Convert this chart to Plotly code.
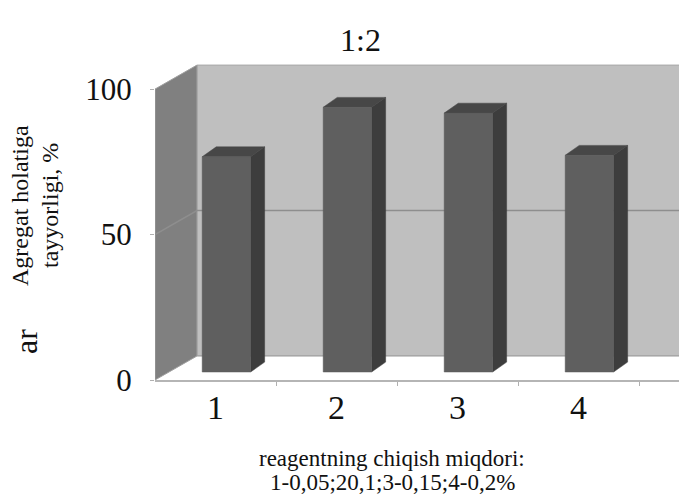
import plotly.graph_objects as go

# ---- data ----
categories = [1, 2, 3, 4]
values = [74, 91, 89, 74.5]
y_ticks = [0, 50, 100]
title_text = "1:2"
y_title_lines = ["Agregat holatiga", "tayyorligi, %"]
x_title_lines = ["reagentning chiqish miqdori:", "1-0,05;20,1;3-0,15;4-0,2%"]

# ---- geometry (3D look) ----
X0, XMAX = 0.5, 5.2          # front-left edge and far right
DX, DY = 0.347, 8.25         # wall depth offsets
BOFF_X, BOFF_Y = 0.09, 2.75  # bar front-face offset into depth
BW = 0.40                    # bar front width
BDX, BDY = 0.116, 3.4        # bar depth

FONT = "Liberation Serif, Times New Roman, serif"
W, H = 679, 494
ML, MR, MT, MB = 155, 0, 60, 114
PW, PH = W - ML - MR, H - MT - MB

fig = go.Figure()

# back wall
fig.add_trace(go.Scatter(
    x=[X0 + DX, XMAX, XMAX, X0 + DX, X0 + DX],
    y=[DY, DY, 100 + DY, 100 + DY, DY],
    fill="toself", fillcolor="#bfbfbf", mode="lines",
    line=dict(color="#a8a8a8", width=1), hoverinfo="skip", showlegend=False))
# floor
fig.add_trace(go.Scatter(
    x=[X0, XMAX, XMAX, X0 + DX, X0],
    y=[0, 0, DY, DY, 0],
    fill="toself", fillcolor="#ffffff", mode="lines",
    line=dict(color="rgba(0,0,0,0)", width=0), hoverinfo="skip", showlegend=False))
fig.add_trace(go.Scatter(
    x=[X0 + DX, XMAX], y=[DY, DY], mode="lines",
    line=dict(color="#9a9a9a", width=1.2), hoverinfo="skip", showlegend=False))
# left wall
fig.add_trace(go.Scatter(
    x=[X0, X0 + DX, X0 + DX, X0, X0],
    y=[0, DY, 100 + DY, 100, 0],
    fill="toself", fillcolor="#808080", mode="lines",
    line=dict(color="#a0a0a0", width=1), hoverinfo="skip", showlegend=False))
# gridline at 50
fig.add_trace(go.Scatter(
    x=[X0, X0 + DX, XMAX], y=[50, 50 + DY, 50 + DY], mode="lines",
    line=dict(color="#8e8e8e", width=1.5), hoverinfo="skip", showlegend=False))

# bar faces
fx, fy, sx, sy, tx, ty = [], [], [], [], [], []
for c, v in zip(categories, values):
    xl = c + BOFF_X - BW / 2
    xr = c + BOFF_X + BW / 2
    b = BOFF_Y
    fx += [xl, xr, xr, xl, xl, None]
    fy += [b, b, b + v, b + v, b, None]
    sx += [xr, xr + BDX, xr + BDX, xr, xr, None]
    sy += [b, b + BDY, b + v + BDY, b + v, b, None]
    tx += [xl, xl + BDX, xr + BDX, xr, xl, None]
    ty += [b + v, b + v + BDY, b + v + BDY, b + v, b + v, None]
fig.add_trace(go.Scatter(x=sx, y=sy, fill="toself", fillcolor="#3d3d3d", mode="lines",
                         line=dict(color="#3d3d3d", width=0.5), hoverinfo="skip", showlegend=False))
fig.add_trace(go.Scatter(x=tx, y=ty, fill="toself", fillcolor="#474747", mode="lines",
                         line=dict(color="#474747", width=0.5), hoverinfo="skip", showlegend=False))
fig.add_trace(go.Scatter(x=fx, y=fy, fill="toself", fillcolor="#5f5f5f", mode="lines",
                         line=dict(color="#5a5a5a", width=0.5), hoverinfo="skip", showlegend=False))

fig.update_layout(
    width=W, height=H,
    margin=dict(l=ML, r=MR, t=MT, b=MB),
    paper_bgcolor="white", plot_bgcolor="white",
    font=dict(family=FONT, color="#111111"),
    xaxis=dict(range=[X0, X0 + PW / 121.0], tickvals=categories,
               ticktext=[str(c) for c in categories],
               tickfont=dict(size=34, family=FONT), ticks="", ticklen=0, showgrid=False,
               zeroline=False, showline=True, linecolor="#b5b5b5", linewidth=1.5,
               ticklabelstandoff=-4,
               minor=dict(tickvals=[1.5, 2.5, 3.5, 4.5], ticks="outside",
                          ticklen=4, tickcolor="#b0b0b0", showgrid=False)),
    yaxis=dict(range=[0, 110], tickvals=y_ticks, tickfont=dict(size=31, family=FONT),
               ticks="outside", ticklen=4, tickcolor="#b0b0b0", showgrid=False,
               zeroline=False, showline=False, ticklabelstandoff=12),
)

anns = [
    dict(text=title_text, x=(360 - ML) / PW, y=(380 - 40) / PH, font=dict(size=32)),
    dict(text=y_title_lines[0], x=(20 - ML) / PW, y=(380 - 206) / PH, textangle=-90, font=dict(size=24)),
    dict(text=y_title_lines[1], x=(50 - ML) / PW, y=(380 - 206) / PH, textangle=-90, font=dict(size=24)),
    dict(text="ar", x=(26 - ML) / PW, y=(380 - 342) / PH, textangle=-90, font=dict(size=32)),
    dict(text=x_title_lines[0], x=(392 - ML) / PW, y=(380 - 458) / PH, font=dict(size=23)),
    dict(text=x_title_lines[1], x=(392 - ML) / PW, y=(380 - 482) / PH, font=dict(size=23)),
]
for a in anns:
    fig.add_annotation(xref="paper", yref="paper", showarrow=False,
                       xanchor="center", yanchor="middle", **a)

fig.write_html("out.html")
